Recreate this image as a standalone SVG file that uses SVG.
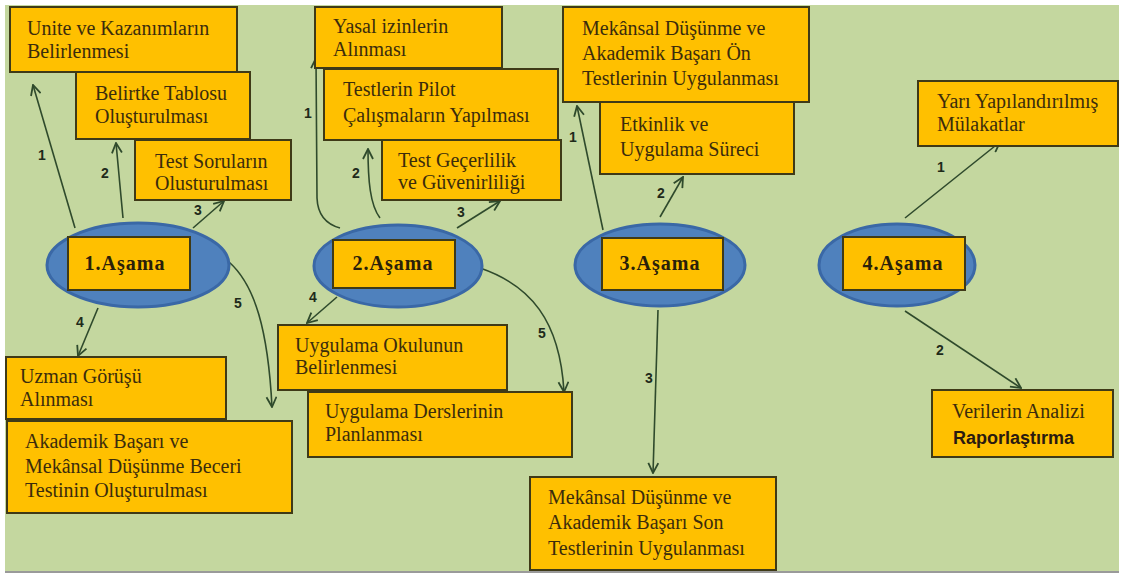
<svg xmlns="http://www.w3.org/2000/svg" width="1124" height="577" viewBox="0 0 1124 577">
<style>
.box{fill:#ffc000;stroke:#3f3a17;stroke-width:2}
.ell{fill:#4f81bd;stroke:#3a68a6;stroke-width:3}
.t{font-family:'Liberation Serif','DejaVu Serif',serif;font-size:20px;fill:#3b2c0c}
.st{font-family:'Liberation Serif','DejaVu Serif',serif;font-size:20px;font-weight:bold;letter-spacing:1px;fill:#2a200a;text-anchor:middle}
.lb{font-family:'Liberation Sans',sans-serif;font-size:14px;font-weight:bold;fill:#1e2a1a}
.c{fill:none;stroke:#2f4a2c;stroke-width:1.6;marker-end:url(#ah)}
</style>
<defs>
<marker id="ah" viewBox="0 0 12 12" refX="11" refY="6" markerWidth="12" markerHeight="12" markerUnits="userSpaceOnUse" orient="auto">
<path d="M1,1 L11,6 L1,11" fill="none" stroke="#2f4a2c" stroke-width="1.8"/>
</marker>
</defs>
<rect width="1124" height="577" fill="#ffffff"/>
<rect x="5" y="5" width="1114" height="566" fill="#c4d79f"/>
<line x1="5" y1="572" x2="1119" y2="572" stroke="#9a9a9a" stroke-width="2"/>

<g id="connectors">
<path class="c" d="M75,228 L33,85"/>
<path class="c" d="M123,218 L116,143"/>
<path class="c" d="M193,228 L224,201"/>
<path class="c" d="M98,308 L78,356"/>
<path class="c" d="M229,262 C255,285 268,330 272,407"/>
<path class="c" d="M340,228 Q318,222 317,198 L316,58"/>
<path class="c" d="M380,218 C370,205 368,180 368,149"/>
<path class="c" d="M457,228 L500,201"/>
<path class="c" d="M337,297 L307,323"/>
<path class="c" d="M480,268 C530,285 560,320 564,392"/>
<path class="c" d="M603,230 L577,106"/>
<path class="c" d="M660,217 L683,177"/>
<path class="c" d="M658,310 L653,473"/>
<path class="c" d="M905,218 L1000,142"/>
<path class="c" d="M905,311 L1021,388"/>
<text class="lb" x="38" y="160">1</text>
<text class="lb" x="101" y="178">2</text>
<text class="lb" x="194" y="215">3</text>
<text class="lb" x="76" y="327">4</text>
<text class="lb" x="234" y="308">5</text>
<text class="lb" x="304" y="118">1</text>
<text class="lb" x="352" y="178">2</text>
<text class="lb" x="457" y="217">3</text>
<text class="lb" x="309" y="302">4</text>
<text class="lb" x="538" y="338">5</text>
<text class="lb" x="569" y="142">1</text>
<text class="lb" x="657" y="198">2</text>
<text class="lb" x="645" y="383">3</text>
<text class="lb" x="937" y="172">1</text>
<text class="lb" x="936" y="355">2</text>
</g>

<g id="s1-unite"><rect class="box" x="10" y="7" width="227" height="65"/><text class="t" x="27" y="35">Unite ve Kazanımların</text><text class="t" x="27" y="58">Belirlenmesi</text></g>
<g id="s1-belirtke"><rect class="box" x="76" y="72" width="174" height="67"/><text class="t" x="95" y="100">Belirtke  Tablosu</text><text class="t" x="95" y="123">Oluşturulması</text></g>
<g id="s1-test"><rect class="box" x="135" y="140" width="156" height="60"/><text class="t" x="155" y="168">Test Soruların</text><text class="t" x="155" y="190">Olusturulması</text></g>
<g id="stage1"><ellipse class="ell" cx="138" cy="265" rx="91" ry="42"/><rect class="box" x="68" y="237" width="122" height="53"/><text class="st" x="125" y="270">1.Aşama</text></g>
<g id="s1-uzman"><rect class="box" x="6" y="357" width="220" height="62"/><text class="t" x="20" y="383">Uzman Görüşü</text><text class="t" x="20" y="406">Alınması</text></g>
<g id="s1-akademik"><rect class="box" x="7" y="421" width="285" height="92"/><text class="t" x="25" y="448">Akademik Başarı ve</text><text class="t" x="25" y="473">Mekânsal Düşünme Beceri</text><text class="t" x="25" y="497">Testinin Oluşturulması</text></g>

<g id="s2-yasal"><rect class="box" x="315" y="7" width="187" height="61"/><text class="t" x="333" y="33">Yasal izinlerin</text><text class="t" x="333" y="56">Alınması</text></g>
<g id="s2-pilot"><rect class="box" x="324" y="69" width="234" height="71"/><text class="t" x="343" y="96">Testlerin Pilot</text><text class="t" x="343" y="122">Çalışmaların  Yapılması</text></g>
<g id="s2-gecerlilik"><rect class="box" x="382" y="140" width="179" height="60"/><text class="t" x="398" y="167">Test Geçerlilik</text><text class="t" x="398" y="189">ve Güvenirliliği</text></g>
<g id="stage2"><ellipse class="ell" cx="398" cy="266" rx="84" ry="41"/><rect class="box" x="333" y="240" width="122" height="48"/><text class="st" x="393" y="270">2.Aşama</text></g>
<g id="s2-okul"><rect class="box" x="278" y="325" width="229" height="65"/><text class="t" x="295" y="352">Uygulama Okulunun</text><text class="t" x="295" y="374">Belirlenmesi</text></g>
<g id="s2-ders"><rect class="box" x="308" y="392" width="264" height="65"/><text class="t" x="325" y="418">Uygulama Derslerinin</text><text class="t" x="325" y="441">Planlanması</text></g>

<g id="s3-on"><rect class="box" x="563" y="7" width="246" height="95"/><text class="t" x="582" y="35">Mekânsal Düşünme ve</text><text class="t" x="582" y="60">Akademik Başarı Ön</text><text class="t" x="582" y="85">Testlerinin  Uygulanması</text></g>
<g id="s3-etkinlik"><rect class="box" x="600" y="102" width="194" height="72"/><text class="t" x="620" y="131">Etkinlik  ve</text><text class="t" x="620" y="156">Uygulama Süreci</text></g>
<g id="stage3"><ellipse class="ell" cx="660" cy="265" rx="85" ry="41"/><rect class="box" x="602" y="238" width="121" height="52"/><text class="st" x="660" y="270">3.Aşama</text></g>
<g id="s3-son"><rect class="box" x="530" y="477" width="246" height="93"/><text class="t" x="548" y="504">Mekânsal Düşünme ve</text><text class="t" x="548" y="529">Akademik Başarı Son</text><text class="t" x="548" y="555">Testlerinin  Uygulanması</text></g>

<g id="stage4"><ellipse class="ell" cx="897" cy="265" rx="78" ry="41"/><rect class="box" x="843" y="237" width="122" height="53"/><text class="st" x="903" y="270">4.Aşama</text></g>
<g id="s4-mulakat"><rect class="box" x="918" y="81" width="200" height="65"/><text class="t" x="937" y="108">Yarı Yapılandırılmış</text><text class="t" x="937" y="131">Mülakatlar</text></g>
<g id="s4-analiz"><rect class="box" x="932" y="390" width="181" height="67"/><text class="t" x="952" y="418">Verilerin Analizi</text><text x="953" y="444" font-family="'Liberation Sans',sans-serif" font-size="18" font-weight="bold" fill="#2a1a10">Raporlaştırma</text></g>
</svg>
